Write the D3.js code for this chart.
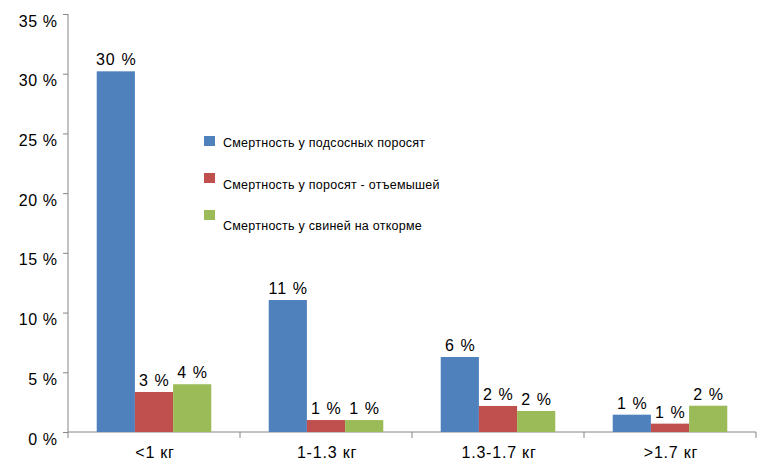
<!DOCTYPE html>
<html>
<head>
<meta charset="utf-8">
<script src="https://cdn.jsdelivr.net/npm/d3@7"></script>
<style>
  body { margin: 0; background: #fff; }
  svg { display: block; font-family: "Liberation Sans", Arial, sans-serif; }
</style>
</head>
<body>
<svg id="chart" width="762" height="476"></svg>
<script>
const categories = ["<1 кг", "1-1.3 кг", "1.3-1.7 кг", ">1.7 кг"];
const seriesNames = ["Смертность у подсосных поросят", "Смертность у поросят - отъемышей", "Смертность у свиней на откорме"];
const seriesSuckling = [30.2, 11.05, 6.28, 1.45];
const seriesWeaners = [3.35, 1.0, 2.18, 0.70];
const seriesFinishing = [4.0, 1.0, 1.76, 2.2];
const yTicks = [0, 5, 10, 15, 20, 25, 30, 35];
const colors = ["#4F81BD", "#C0504D", "#9BBB59"];

const allSeries = [seriesSuckling, seriesWeaners, seriesFinishing];
const svg = d3.select("#chart");
const axisColor = "#868686";

const x0 = d3.scaleBand().domain(categories).range([68, 756]).padding(0);
const x1 = d3.scaleBand().domain(d3.range(allSeries.length))
  .range([x0.bandwidth() * 0.167, x0.bandwidth() * 0.833]).padding(0);
const y = d3.scaleLinear().domain([0, 35]).range([432, 14]);

// Y axis
const yAxis = svg.append("g").attr("transform", "translate(68,0)")
  .call(d3.axisLeft(y).tickValues(yTicks).tickSize(5).tickPadding(6).tickFormat(d => d + " %"));
yAxis.select(".domain").attr("stroke", axisColor).attr("d", "M0,14V432");
yAxis.selectAll(".tick line").attr("stroke", axisColor);
yAxis.selectAll(".tick text").attr("font-size", 16).attr("fill", "#000").attr("dy", "12px")
  .attr("letter-spacing", "0.6px").attr("dx", "0.6px")
  .attr("font-family", "Liberation Sans, Arial, sans-serif");

// X axis
const xg = svg.append("g");
xg.append("line").attr("x1", 68).attr("x2", 756).attr("y1", 432).attr("y2", 432).attr("stroke", axisColor);
const boundaries = categories.map(c => x0(c)).concat([x0(categories[categories.length - 1]) + x0.bandwidth()]);
xg.selectAll("line.bt").data(boundaries).join("line").attr("class", "bt")
  .attr("x1", d => d).attr("x2", d => d).attr("y1", 432).attr("y2", 438).attr("stroke", axisColor);

// Bars
const groups = svg.selectAll("g.grp").data(categories).join("g").attr("class", "grp")
  .attr("transform", c => `translate(${x0(c)},0)`);
groups.each(function(c, ci) {
  const g = d3.select(this);
  allSeries.forEach((s, si) => {
    const v = s[ci];
    g.append("rect").attr("x", x1(si)).attr("width", x1.bandwidth())
      .attr("y", y(v)).attr("height", y(0) - y(v)).attr("fill", colors[si]);
    g.append("text").attr("x", x1(si) + x1.bandwidth() / 2 + 0.5).attr("y", y(v) - 6)
      .attr("text-anchor", "middle").attr("font-size", 16).attr("letter-spacing", "1.1px")
      .attr("fill", "#000").text(Math.round(v) + " %");
  });
});

// Category labels
svg.selectAll("text.cat").data(categories).join("text").attr("class", "cat")
  .attr("x", c => x0(c) + x0.bandwidth() / 2 + 1).attr("y", 458)
  .attr("text-anchor", "middle").attr("font-size", 16).attr("letter-spacing", "0.8px")
  .attr("fill", "#000").text(c => c);

// Legend
const legend = svg.append("g");
seriesNames.forEach((n, i) => {
  legend.append("rect").attr("x", 204).attr("y", 136 + i * 37).attr("width", 11).attr("height", 10).attr("fill", colors[i]);
  legend.append("text").attr("x", 223).attr("y", 147 + i * 41.5).attr("font-size", 12.5)
    .attr("letter-spacing", "0.25px").attr("fill", "#000").text(n);
});
</script>
</body>
</html>
